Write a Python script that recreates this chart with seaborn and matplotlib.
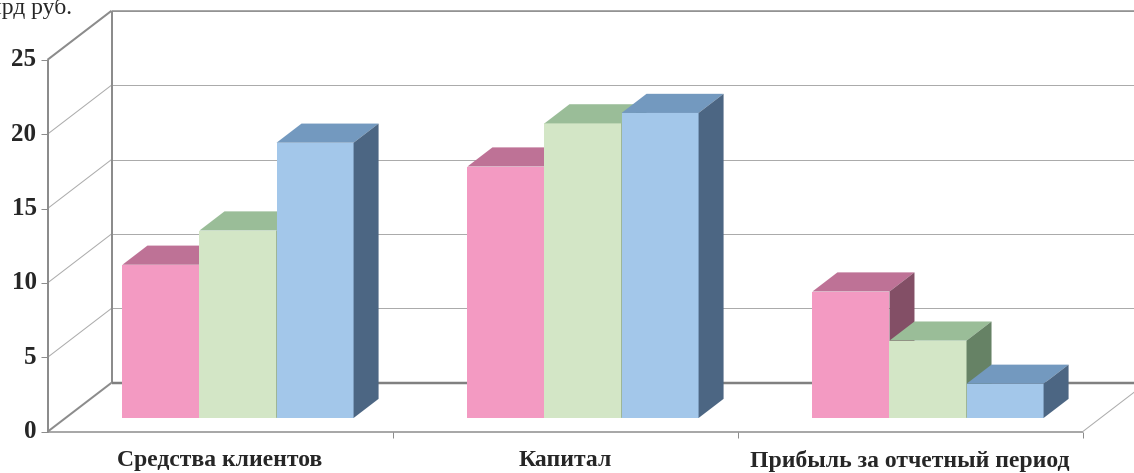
import numpy as np
import pandas as pd
import matplotlib
matplotlib.use("Agg")
import matplotlib.pyplot as plt
import matplotlib.transforms as mtransforms
from matplotlib.patches import Polygon
import seaborn as sns

# Chart data
categories = ["Средства клиентов", "Капитал", "Прибыль за отчетный период"]
series = ["Ряд 1", "Ряд 2", "Ряд 3"]
values_1 = [10.3, 16.9, 8.5]
values_2 = [12.6, 19.8, 5.2]
values_3 = [18.5, 20.5, 2.3]
y_ticks = [0, 5, 10, 15, 20, 25]
y_title = "млрд руб."

# Colours: front, top and side of each series
front_colors = ["#F39AC2", "#D3E6C6", "#A3C7EA"]
top_colors = ["#BE7296", "#9ABD98", "#7399BF"]
side_colors = ["#834F66", "#668265", "#4C6683"]

df = pd.DataFrame({
    "category": categories * 3,
    "series": np.repeat(series, 3),
    "value": values_1 + values_2 + values_3,
})

sns.set_style("white")
plt.rcParams["font.family"] = ["Liberation Serif", "DejaVu Serif"]

W, H = 1134, 473
fig = plt.figure(figsize=(W / 100, H / 100), dpi=100)
ax = fig.add_axes([0, 0, 1, 1])

sns.barplot(data=df, x="category", y="value", hue="series", palette=front_colors,
            width=0.67, saturation=1, linewidth=0, legend=False, ax=ax)

# pixel scale of the bar plane
px_cat = 345.0
px_val = 14.88
left_px = 238.0
base_px = 55.0
ax.set_xlim(-left_px / px_cat, (W - left_px) / px_cat)
ax.set_ylim(-base_px / px_val, (H - base_px) / px_val)
ax.axis("off")

# oblique depth: full box depth and bar depth, in pixels
depth_vec = np.array([64.0, 49.0])
bar_plane = 18.0 / 64.0
bar_depth = 25.0 / 64.0

ident = mtransforms.IdentityTransform()


def to_px(x, y, d):
    p = ax.transData.transform((x, y))
    return p + depth_vec * (d - bar_plane)


def seg(p1, p2, color, lw, z=1):
    ax.plot([p1[0], p2[0]], [p1[1], p2[1]], color=color, lw=lw * 0.72,
            transform=ident, zorder=z, solid_capstyle="butt")


wall = "#8C8C8C"
grid = "#ABABAB"
x_lo, x_hi = -0.5, len(categories) - 0.5
y_top = y_ticks[-1]

# back wall gridlines and left wall diagonals
for y in y_ticks[1:]:
    seg(to_px(x_lo, y, 1), to_px(x_hi + 0.2, y, 1), grid, 1)
    seg(to_px(x_lo, y, 0), to_px(x_lo, y, 1), grid, 1)
# box frame
seg(to_px(x_lo, y_top, 1), to_px(x_hi + 0.2, y_top, 1), wall, 1.5)
seg(to_px(x_lo, y_top, 0), to_px(x_lo, y_top, 1), wall, 2)
seg(to_px(x_lo, 0, 0), to_px(x_lo, y_top, 0), wall, 2)
seg(to_px(x_lo, 0, 1), to_px(x_lo, y_top, 1), wall, 2)
seg(to_px(x_lo, 0, 0), to_px(x_lo, 0, 1), wall, 2)
seg(to_px(x_lo, 0, 1), to_px(x_hi + 0.2, 0, 1), "#808080", 2.5)
seg(to_px(x_lo, 0, 0), to_px(x_hi, 0, 0), wall, 1.5)
seg(to_px(x_hi, 0, 0), to_px(x_hi, 0, 1), grid, 1)

# y tick marks and labels on the front edge
for y in y_ticks:
    p = to_px(x_lo, y, 0)
    seg(p, p - np.array([7, 0]), wall, 1)
    ax.text(p[0] - 11, p[1], str(y), transform=ident, ha="right", va="center",
            fontsize=18, fontweight="bold")

# category ticks and labels
for i, cat in enumerate(categories):
    p = to_px(i + 0.5, 0, 0)
    seg(p, p - np.array([0, 6]), wall, 1)
    c = to_px(i, 0, 0)
    ax.text(c[0], c[1] - 29, cat, transform=ident, ha="center", va="center",
            fontsize=17, fontweight="bold")

ax.text(72, H - 14, y_title, transform=ident, ha="right", va="baseline", fontsize=17)

# 3D faces for each bar
dv = depth_vec * bar_depth
for h, cont in enumerate(ax.containers):
    for rect in cont.patches:
        x0, w, hgt = rect.get_x(), rect.get_width(), rect.get_height()
        rect.set_zorder(10 + 3 * h)
        tl = ax.transData.transform((x0, hgt))
        tr = ax.transData.transform((x0 + w, hgt))
        br = ax.transData.transform((x0 + w, 0))
        top = Polygon([tl, tr, tr + dv, tl + dv], closed=True, transform=ident,
                      facecolor=top_colors[h], edgecolor="none", zorder=11 + 3 * h)
        side = Polygon([tr, br, br + dv, tr + dv], closed=True, transform=ident,
                       facecolor=side_colors[h], edgecolor="none", zorder=12 + 3 * h)
        ax.add_patch(top)
        ax.add_patch(side)

fig.savefig("out.png", dpi=100)
